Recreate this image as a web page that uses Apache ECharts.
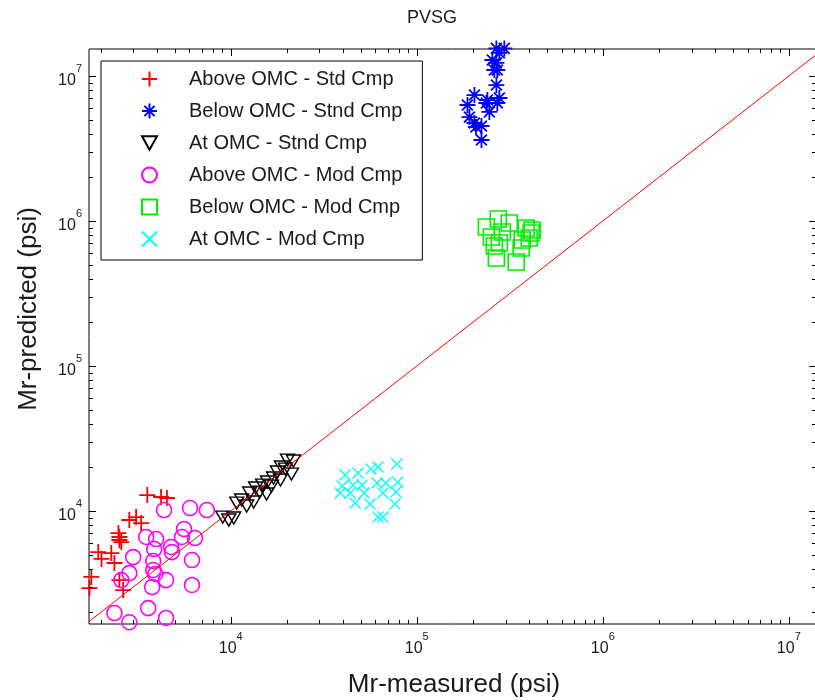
<!DOCTYPE html>
<html>
<head>
<meta charset="utf-8">
<script src="https://cdn.jsdelivr.net/npm/echarts@6/dist/echarts.min.js"></script>
<style>
  html, body { margin: 0; padding: 0; background: #ffffff; }
  #chart { width: 815px; height: 700px; }
</style>
</head>
<body>
<div id="chart"></div>
<script>
// Resilient modulus: measured vs. predicted (psi), log-log
const X_MIN = 1730, X_MAX = 1.40e7;
const Y_MIN = 1663, Y_MAX = 1.535e7;

const seriesNames = [
  'Above OMC - Std Cmp',
  'Below OMC - Stnd Cmp',
  'At OMC - Stnd Cmp',
  'Above OMC - Mod Cmp',
  'Below OMC - Mod Cmp',
  'At OMC - Mod Cmp'
];

// [measured, predicted]
const aboveStd = [[1740,2940],[1780,3510],[1940,5210],[2020,4670],[2280,5130],[2370,4380],[2490,7050],[2520,6620],[2520,6310],[2580,6110],[2520,3340],[2640,2850],[2850,8670],[3100,9090],[3300,8260],[3560,12890],[4220,12490],[4540,12300]];
const belowStd = [[267900,15500000],[295500,15500000],[277900,14420000],[254900,12890000],[267900,12300000],[271000,11000000],[261300,11000000],[267900,8660000],[204200,7390000],[239700,6830000],[277900,7050000],[187300,6310000],[236700,6510000],[271000,6510000],[245600,5650000],[191900,5210000],[204200,4740000],[222700,4520000],[208000,4450000],[222700,3620000]];
const atStd = [[9060,9090],[9760,8670],[10380,8950],[10770,11350],[11450,11910],[12180,10830],[12640,13310],[13280,11540],[13610,14410],[14290,13520],[14830,15100],[15580,13100],[15770,15850],[16560,14870],[16980,16890],[17830,18580],[18500,16360],[18730,20110],[19680,19480],[20180,22470],[21190,17990],[21720,22130]];
const aboveMod = [[4380,10160],[6040,10490],[7440,10160],[5610,7510],[5470,6620],[6420,6510],[3510,6620],[3970,6410],[3880,5470],[4780,5650],[4830,5210],[2990,4810],[3830,4520],[6190,4590],[2850,3730],[3830,3920],[3930,3680],[4490,3340],[2580,3340],[3780,2990],[6190,3090],[3600,2140],[2370,1980],[2850,1710],[4490,1830]];
const belowMod = [[236700,909000],[274500,1032000],[314200,968500],[251800,776000],[288400,839800],[277900,705000],[261300,672500],[267900,555600],[342600,521600],[387300,895000],[417000,867000],[401900,763500],[368800,739500],[364000,651400],[412000,826500]];
const atMod = [[41190,17710],[48370,18280],[56750,19480],[61850,20110],[78130,21090],[39720,14870],[38770,13310],[45470,15110],[50800,15110],[61100,15600],[68240,15600],[79060,15850],[43830,13310],[52080,13310],[65770,13310],[77300,13520],[46580,11350],[56070,11180],[76250,11180],[61850,9090],[65770,9090]];

// line of equality
const diagonal = [[X_MIN, X_MIN], [X_MAX, X_MAX]];

// tick marks: decades and the 2..9 steps inside them
const decades = [1e3, 1e4, 1e5, 1e6, 1e7];
const minorSteps = [2, 3, 4, 5, 6, 7, 8, 9];

const FONT = '"Liberation Sans", Arial, Helvetica, sans-serif';
const TEXT = '#1a1a1a';

function ticksWithin(lo, hi) {
  const out = [];
  decades.forEach(d => {
    if (d >= lo && d <= hi) out.push([d, 1]);
    minorSteps.forEach(s => {
      const v = d * s;
      if (v >= lo && v <= hi) out.push([v, 0]);
    });
  });
  return out;
}
const xTicks = ticksWithin(X_MIN, X_MAX).map(t => [t[0], Y_MIN, t[1]]);
const yTicks = ticksWithin(Y_MIN, Y_MAX).map(t => [X_MIN, t[0], t[1]]);

function powerLabel(v) {
  const e = Math.log10(v);
  const r = Math.round(e);
  if (Math.abs(e - r) > 1e-6) return '';
  return '{b|10}{s|' + r + '}';
}
const labelRich = {
  b: { fontSize: 16, fontFamily: FONT, color: TEXT, lineHeight: 26, verticalAlign: 'bottom' },
  s: { fontSize: 11, fontFamily: FONT, color: TEXT, lineHeight: 12, verticalAlign: 'top' }
};

function tickRenderer(dir) {
  return function (params, api) {
    const major = api.value(2) === 1;
    const len = major ? 7 : 4;
    const style = { stroke: '#000', lineWidth: 1 };
    if (dir === 'x') {
      const v = api.value(0);
      const a = api.coord([v, Y_MIN]);
      const b = api.coord([v, Y_MAX]);
      const x = Math.round(a[0]) + 0.5;
      return { type: 'group', children: [
        { type: 'line', shape: { x1: x, y1: a[1], x2: x, y2: a[1] - len }, style: style },
        { type: 'line', shape: { x1: x, y1: b[1], x2: x, y2: b[1] + len }, style: style }
      ] };
    }
    const v = api.value(1);
    const a = api.coord([X_MIN, v]);
    const b = api.coord([X_MAX, v]);
    const y = Math.round(a[1]) + 0.5;
    return { type: 'group', children: [
      { type: 'line', shape: { x1: a[0], y1: y, x2: a[0] + len, y2: y }, style: style },
      { type: 'line', shape: { x1: b[0], y1: y, x2: b[0] - len, y2: y }, style: style }
    ] };
  };
}

const SYM_PLUS = 'path://M0,5L10,5M5,0L5,10';
const SYM_STAR = 'path://M0,5L10,5M5,0L5,10M1.6,1.6L8.4,8.4M8.4,1.6L1.6,8.4';
const SYM_CROSS = 'path://M0,0L10,10M10,0L0,10';
const SYM_TRI_DOWN = 'path://M0,0L10,0L5,9Z';

function scatter(name, data, symbol, size, color, width) {
  return {
    name: name,
    type: 'scatter',
    data: data,
    symbol: symbol,
    symbolSize: size,
    clip: false,
    silent: true,
    itemStyle: { color: 'rgba(0,0,0,0)', borderColor: color, borderWidth: width, opacity: 1 },
    z: 3
  };
}

const chart = echarts.init(document.getElementById('chart'), null, { renderer: 'canvas' });

chart.setOption({
  animation: false,
  backgroundColor: '#ffffff',
  grid: {
    left: 89, top: 49, width: 727, height: 575,
    outerBoundsMode: 'none', containLabel: false,
    show: true, borderColor: '#000', borderWidth: 1, backgroundColor: 'rgba(0,0,0,0)'
  },
  xAxis: {
    type: 'log', logBase: 10, min: X_MIN, max: X_MAX,
    axisLine: { show: false }, axisTick: { show: false }, splitLine: { show: false },
    axisLabel: { formatter: powerLabel, margin: 7, rich: labelRich }
  },
  yAxis: {
    type: 'log', logBase: 10, min: Y_MIN, max: Y_MAX,
    axisLine: { show: false }, axisTick: { show: false }, splitLine: { show: false },
    axisLabel: { formatter: powerLabel, margin: 7, rich: labelRich }
  },
  legend: {
    orient: 'vertical', left: 101, top: 61,
    padding: [8, 20, 11, 40], itemGap: 12, itemWidth: 15, itemHeight: 15,
    borderColor: '#000', borderWidth: 1, backgroundColor: '#ffffff',
    selectedMode: false,
    textStyle: { fontSize: 20, fontFamily: FONT, color: TEXT, lineHeight: 20, padding: [0, 0, 0, 27] },
    data: seriesNames
  },
  graphic: [
    { type: 'text', x: 432, y: 18, style: { text: 'PVSG', font: '18px ' + FONT, fill: TEXT, textAlign: 'center', textVerticalAlign: 'middle' } },
    { type: 'text', x: 454, y: 685, style: { text: 'Mr-measured (psi)', font: '26px ' + FONT, fill: TEXT, textAlign: 'center', textVerticalAlign: 'middle' } },
    { type: 'text', x: 29, y: 309, rotation: Math.PI / 2, style: { text: 'Mr-predicted (psi)', font: '26px ' + FONT, fill: TEXT, textAlign: 'center', textVerticalAlign: 'middle' } }
  ],
  series: [
    scatter(seriesNames[0], aboveStd, SYM_PLUS, 16, '#ff0000', 1.8),
    scatter(seriesNames[1], belowStd, SYM_STAR, 16, '#0000ff', 1.8),
    scatter(seriesNames[2], atStd, SYM_TRI_DOWN, [14, 12], '#000000', 1.4),
    scatter(seriesNames[3], aboveMod, 'circle', 15, '#ff00ff', 1.6),
    scatter(seriesNames[4], belowMod, 'rect', 16, '#00ee00', 1.6),
    scatter(seriesNames[5], atMod, SYM_CROSS, 11, '#00ffff', 1.4),
    {
      type: 'line', data: diagonal, symbol: 'none', silent: true, z: 4,
      lineStyle: { color: '#ff0000', width: 1 }
    },
    {
      type: 'custom', data: xTicks, renderItem: tickRenderer('x'), silent: true, z: 5,
      encode: { x: 0, y: 1 }
    },
    {
      type: 'custom', data: yTicks, renderItem: tickRenderer('y'), silent: true, z: 5,
      encode: { x: 0, y: 1 }
    }
  ]
});
</script>
</body>
</html>
